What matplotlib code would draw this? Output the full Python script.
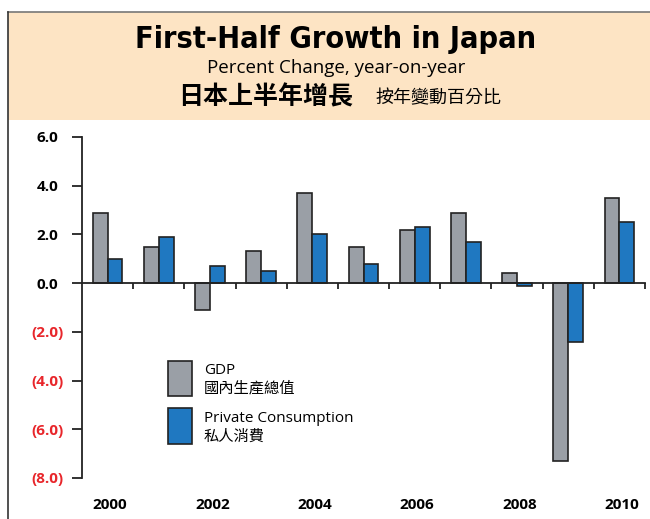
import numpy as np
import matplotlib.pyplot as plt
from matplotlib.patches import Rectangle
from matplotlib.lines import Line2D

# data
years = list(range(2000, 2011))
gdp = [2.9, 1.5, -1.1, 1.3, 3.7, 1.5, 2.2, 2.9, 0.4, -7.3, 3.5]
consumption = [1.0, 1.9, 0.7, 0.5, 2.0, 0.8, 2.3, 1.7, -0.1, -2.4, 2.5]
yticks = [6, 4, 2, 0, -2, -4, -6, -8]
year_labels = [2000, 2002, 2004, 2006, 2008, 2010]

GRAY = '#9a9fa6'
BLUE = '#1f78c1'
EDGE = '#222222'
RED = '#e8262b'
PEACH = '#fde4c4'

latin = ['Open Sans', 'DejaVu Sans']
cjk = ['Noto Sans CJK TC', 'DejaVu Sans']

W, H = 650, 519
fig = plt.figure(figsize=(W / 100, H / 100), dpi=100)


def fx(px):
    return px / W


def fy(py):
    return 1 - py / H


# header band and frame
fig.add_artist(Rectangle((fx(8), fy(120)), fx(642), fy(12) - fy(120),
                         transform=fig.transFigure, facecolor=PEACH, edgecolor='none'))
fig.add_artist(Line2D([fx(8), 1], [fy(11.5), fy(11.5)], transform=fig.transFigure,
                      color='#777777', lw=1.2))
fig.add_artist(Line2D([fx(8), fx(8)], [fy(11.5), 0], transform=fig.transFigure,
                      color='#333333', lw=1.2))

fig.text(fx(336), fy(40), 'First-Half Growth in Japan', ha='center', va='center',
         fontsize=22, fontweight='bold', family='DejaVu Sans', fontstretch='condensed')
fig.text(fx(336), fy(68), 'Percent Change, year-on-year', ha='center', va='center',
         fontsize=13.5, family=latin)
fig.text(fx(178), fy(97), '日本上半年增長', ha='left', va='center',
         fontsize=18, fontweight='bold', family=cjk)
fig.text(fx(375), fy(98), '按年變動百分比', ha='left', va='center',
         fontsize=13, family=cjk)

# main axes
ax = fig.add_axes([fx(82), fy(478), fx(645) - fx(82), fy(137) - fy(478)])
x = np.arange(len(years))
w = 0.29
ax.bar(x - w / 2, gdp, w, color=GRAY, edgecolor=EDGE, linewidth=1.2, zorder=2)
ax.bar(x + w / 2, consumption, w, color=BLUE, edgecolor=EDGE, linewidth=1.2, zorder=2)

ax.set_xlim(-0.5, 10.5)
ax.set_ylim(-8, 6)
for s in ['top', 'right']:
    ax.spines[s].set_visible(False)
ax.spines['bottom'].set_position(('data', 0))
ax.spines['bottom'].set_zorder(3)
ax.spines['left'].set_bounds(-8, 6)
for s in ['bottom', 'left']:
    ax.spines[s].set_linewidth(1.3)
    ax.spines[s].set_color('#222222')

ax.set_xticks(np.arange(0.5, 11, 1))
ax.set_xticklabels([])
ax.tick_params(axis='x', direction='out', length=4, width=1.3, color='#222222')

ax.set_yticks(yticks)
ax.set_yticklabels([f'{v:.1f}' if v >= 0 else f'({-v:.1f})' for v in yticks],
                   fontsize=11, fontweight='bold', family=latin)
for lab, v in zip(ax.get_yticklabels(), yticks):
    lab.set_color(RED if v < 0 else 'black')
    lab.set_horizontalalignment('center')
ax.tick_params(axis='y', direction='out', length=7, width=1.3, color='#222222', pad=18)

for yr in year_labels:
    ax.text(years.index(yr) + 0.05, -0.079, str(yr), transform=ax.get_xaxis_transform(),
            ha='center', va='center', fontsize=11, fontweight='bold', family=latin)

# legend
fig.add_artist(Rectangle((fx(168), fy(396)), fx(24), fy(361) - fy(396), transform=fig.transFigure,
                         facecolor=GRAY, edgecolor=EDGE, linewidth=1.2))
fig.add_artist(Rectangle((fx(168), fy(444)), fx(24), fy(408) - fy(444), transform=fig.transFigure,
                         facecolor=BLUE, edgecolor=EDGE, linewidth=1.2))
fig.text(fx(204), fy(370), 'GDP', ha='left', va='center', fontsize=11, family=latin)
fig.text(fx(204), fy(388), '國內生產總值', ha='left', va='center', fontsize=11, family=cjk)
fig.text(fx(204), fy(418), 'Private Consumption', ha='left', va='center', fontsize=11, family=latin)
fig.text(fx(204), fy(436), '私人消費', ha='left', va='center', fontsize=11, family=cjk)

fig.savefig('out.png', dpi=100)
